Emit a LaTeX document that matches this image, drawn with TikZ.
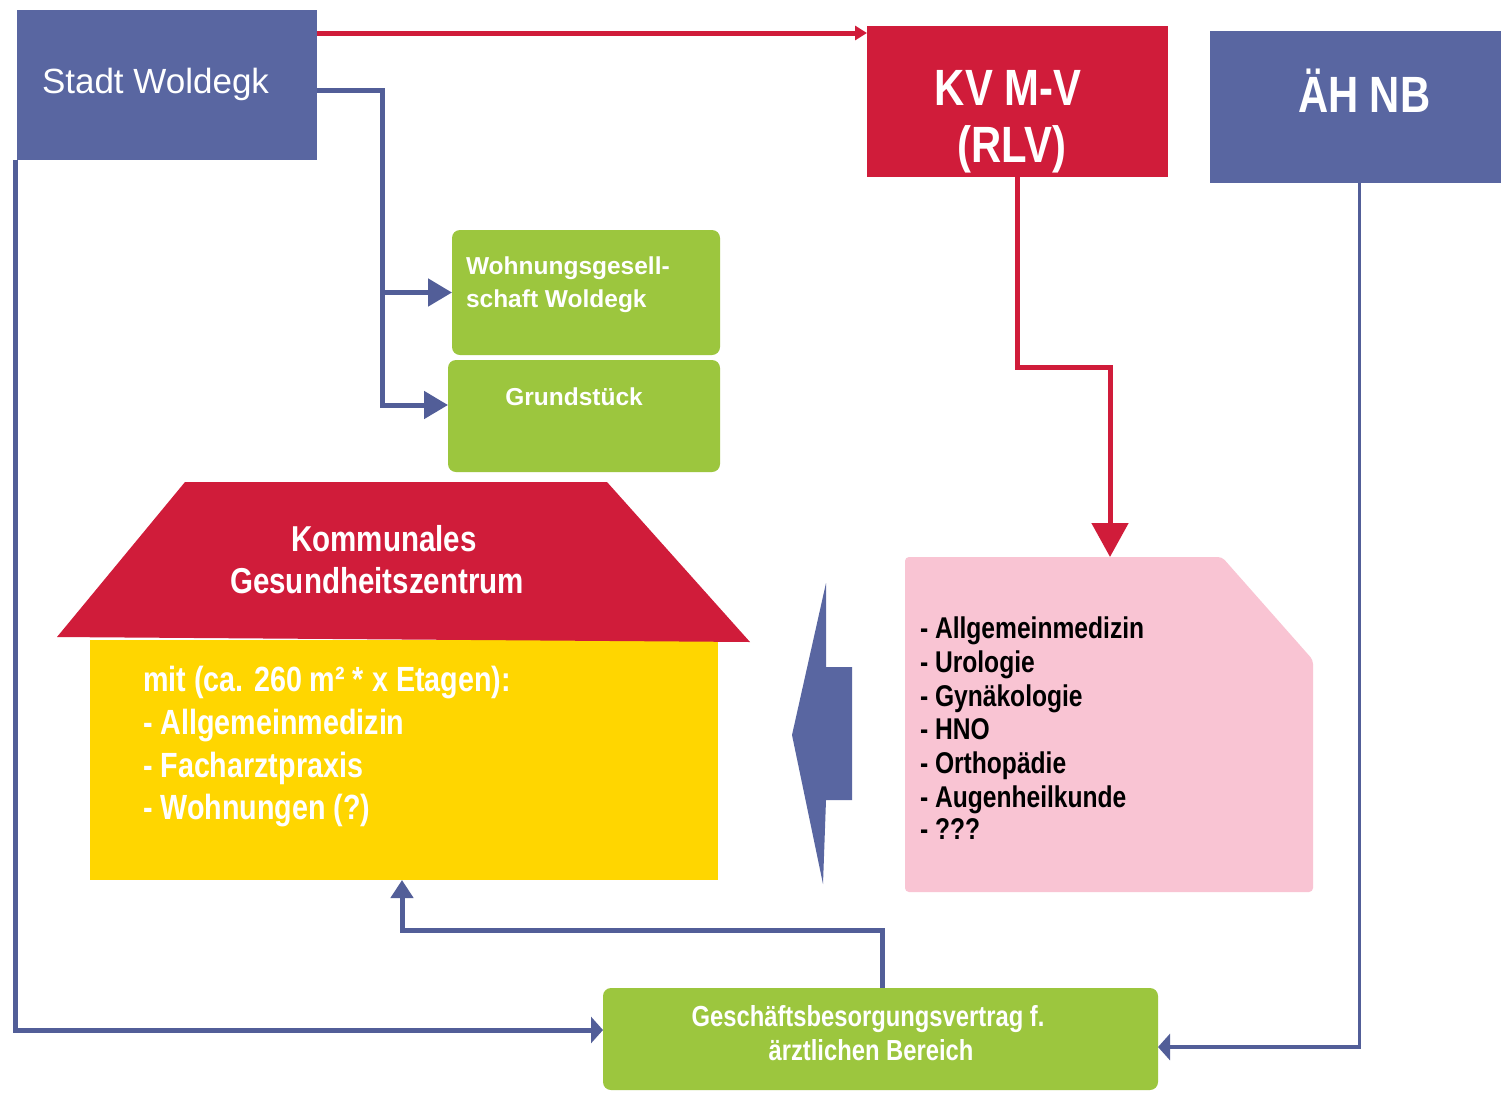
\documentclass[tikz,border=0pt]{standalone}
\usepackage{fontspec}
\setmainfont{Liberation Sans}
\newfontfamily\nfont[FakeStretch=0.82]{Liberation Sans}
\usetikzlibrary{arrows.meta}
\definecolor{wblue}{RGB}{89,102,161}
\definecolor{wline}{RGB}{82,94,152}
\definecolor{wred}{RGB}{208,28,58}
\definecolor{wgreen}{RGB}{156,198,62}
\definecolor{wyellow}{RGB}{255,214,0}
\definecolor{wpink}{RGB}{249,196,211}
\begin{document}
\begin{tikzpicture}[x=1pt,y=-1pt,
  boxn/.style={rectangle, inner sep=0pt, outer sep=0pt, anchor=center},
  bluebox/.style={boxn, fill=wblue},
  redbox/.style={boxn, fill=wred},
  greenbox/.style={boxn, fill=wgreen, rounded corners=8pt},
  txt/.style={inner sep=0pt, outer sep=0pt, text=white},
  bline/.style={draw=wline, line width=5pt},
  rline/.style={draw=wred, line width=5pt},
  bigtip/.style={-{Triangle[length=24pt,width=27pt]}},
  flattip/.style={-{Triangle[length=12pt,width=26pt]}},
]
\useasboundingbox (0,0) rectangle (1501,1093);
\fill[white] (0,0) rectangle (1501,1093);

% boxes
\node[bluebox, minimum width=300pt, minimum height=150pt] (stadt) at (167,85) {};
\node[redbox, minimum width=301pt, minimum height=151pt] (kv) at (1017.5,101.5) {};
\node[bluebox, minimum width=291pt, minimum height=152pt] (ah) at (1355.5,107) {};
\node[greenbox, minimum width=268pt, minimum height=125pt] (g1) at (586,292.5) {};
\node[greenbox, minimum width=272pt, minimum height=112pt] (g2) at (584,416) {};
\node[greenbox, minimum width=555pt, minimum height=102pt] (bg) at (880.5,1039) {};
\node[boxn, fill=wyellow, minimum width=628pt, minimum height=240pt] (body) at (404,760) {};
\fill[wred] (185,482) -- (607,482) -- (750,642) -- (57,637) -- cycle;
\fill[wpink, rounded corners=4pt] (905,557) -- (1222,557) -- (1313,660) -- (1313,892) -- (905,892) -- cycle;
\coordinate (pinktop) at (1110,557);
\fill[wblue] (792,735) -- (826,583) -- (826,667) -- (852,667) -- (852,800) -- (826,800) -- (823,884) -- cycle;

% texts
\node[txt, anchor=base west, font=\fontsize{35}{40}\selectfont] (t1) at (42,93) {Stadt Woldegk};
\node[txt, anchor=base, font=\nfont\bfseries\fontsize{51}{58}\selectfont] (t2) at (1008,105) {KV M-V};
\node[txt, anchor=base, font=\nfont\bfseries\fontsize{51}{58}\selectfont] (t3) at (1012,162) {(RLV)};
\node[txt, anchor=base west, font=\nfont\bfseries\fontsize{51}{58}\selectfont] (t4) at (1298,112) {ÄH NB};
\node[txt, anchor=base west, font=\bfseries\fontsize{24.5}{30}\selectfont] (t5) at (466,274) {Wohnungsgesell-};
\node[txt, anchor=base west, font=\bfseries\fontsize{24.5}{30}\selectfont] (t6) at (466,307) {schaft Woldegk};
\node[txt, anchor=base, font=\bfseries\fontsize{24.5}{30}\selectfont] (t7) at (574,405) {Grundstück};
\node[txt, anchor=base, font=\nfont\bfseries\fontsize{36}{42}\selectfont] (t8) at (384,551) {Kommunales};
\node[txt, anchor=base, font=\nfont\bfseries\fontsize{36}{42}\selectfont] (t9) at (377,593) {Gesundheitszentrum};
\node[txt, anchor=base west, font=\nfont\bfseries\fontsize{35}{42}\selectfont] (y1) at (143,691) {mit (ca. 260 m² * x Etagen):};
\node[txt, anchor=base west, font=\nfont\bfseries\fontsize{35}{42}\selectfont] (y2) at (143,734) {- Allgemeinmedizin};
\node[txt, anchor=base west, font=\nfont\bfseries\fontsize{35}{42}\selectfont] (y3) at (143,777) {- Facharztpraxis};
\node[txt, anchor=base west, font=\nfont\bfseries\fontsize{35}{42}\selectfont] (y4) at (143,819) {- Wohnungen (?)};
\node[txt, text=black, anchor=base west, font=\nfont\bfseries\fontsize{30}{34}\selectfont] (p1) at (920,638) {- Allgemeinmedizin};
\node[txt, text=black, anchor=base west, font=\nfont\bfseries\fontsize{30}{34}\selectfont] (p2) at (920,672) {- Urologie};
\node[txt, text=black, anchor=base west, font=\nfont\bfseries\fontsize{30}{34}\selectfont] (p3) at (920,706) {- Gynäkologie};
\node[txt, text=black, anchor=base west, font=\nfont\bfseries\fontsize{30}{34}\selectfont] (p4) at (920,739) {- HNO};
\node[txt, text=black, anchor=base west, font=\nfont\bfseries\fontsize{30}{34}\selectfont] (p5) at (920,773) {- Orthopädie};
\node[txt, text=black, anchor=base west, font=\nfont\bfseries\fontsize{30}{34}\selectfont] (p6) at (920,807) {- Augenheilkunde};
\node[txt, text=black, anchor=base west, font=\nfont\bfseries\fontsize{30}{34}\selectfont] (p7) at (920,839) {- ???};
\node[txt, anchor=base, font=\nfont\bfseries\fontsize{29}{34}\selectfont] (b1t) at (868,1026) {Geschäftsbesorgungsvertrag f.};
\node[txt, anchor=base, font=\nfont\bfseries\fontsize{29}{34}\selectfont] (b2t) at (871,1060) {ärztlichen Bereich};

% connectors
\coordinate (r1) at ([yshift=-23pt]stadt.north east);
\draw[rline, -{Triangle[length=12pt,width=14pt]}] (r1) -- (r1 -| kv.west);
\draw[rline, -{Triangle[length=34pt,width=36pt]}] (kv.south) -- ++(0,190) -| (pinktop);

\coordinate (s1) at ([yshift=-80pt]stadt.north east);
\coordinate (tx) at (382,0);
\coordinate (g2w) at ([yshift=11pt]g2.west);
\draw[bline, bigtip] (s1) -| (tx |- g2w) -- (g2w);
\draw[bline, bigtip] (tx |- g1.west) -- (g1.west);

\draw[bline, flattip] ([xshift=-2pt]stadt.south west) |- ([yshift=9pt]bg.west);
\draw[bline, line width=3.5pt, flattip] ([xshift=4pt]ah.south) |- ([yshift=-8pt]bg.east);
\draw[bline, -{Triangle[length=18pt,width=22pt]}] ([xshift=1.5pt]bg.north) -- ++(0,-58) -| (body.south -| 402,0);
\end{tikzpicture}
\end{document}
